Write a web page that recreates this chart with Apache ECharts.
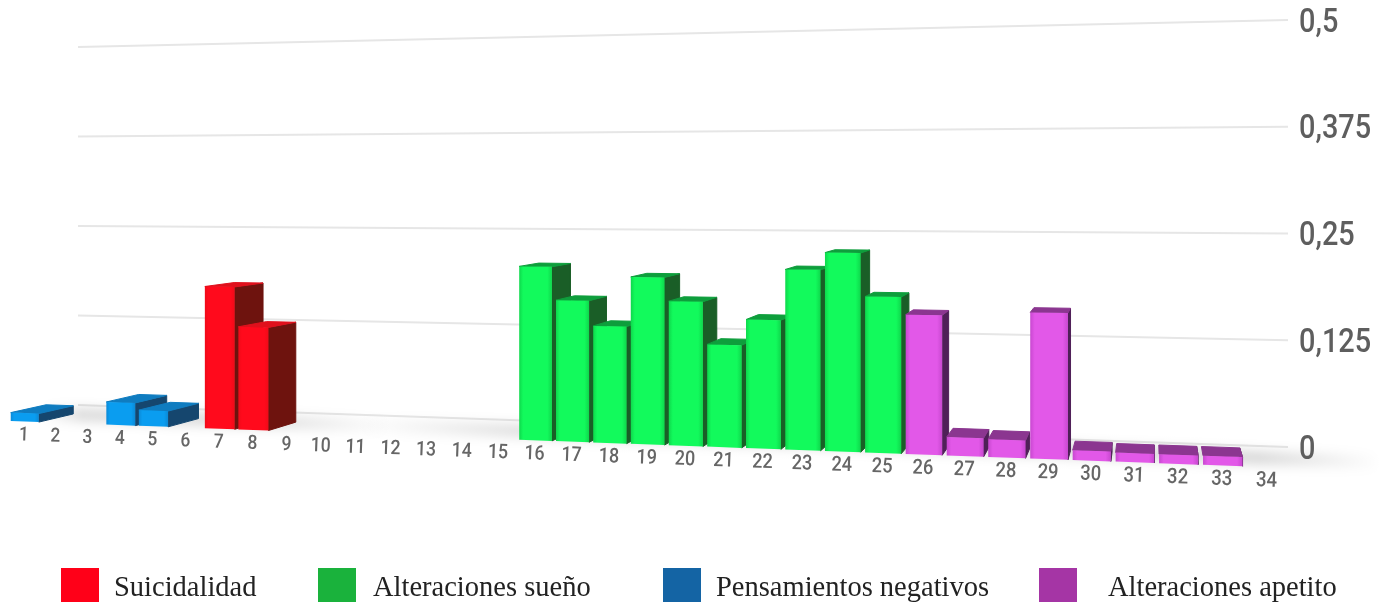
<!DOCTYPE html>
<html>
<head>
<meta charset="utf-8">
<style>html,body{margin:0;padding:0;background:#fff}#c{width:1383px;height:602px}</style>
<script src="https://cdn.jsdelivr.net/npm/echarts@6/dist/echarts.min.js"></script>
</head>
<body>
<div id="c"></div>
<script>
const categories = ['1','2','3','4','5','6','7','8','9','10','11','12','13','14','15','16','17','18','19','20','21','22','23','24','25','26','27','28','29','30','31','32','33','34'];
const pensamientosCats = ['1','4','5'];
const pensamientosVals = [0.011,0.029,0.020];
const suicidalidadCats = ['7','8'];
const suicidalidadVals = [0.179,0.129];
const suenoCats = ['16','17','18','19','20','21','22','23','24','25'];
const suenoVals = [0.209,0.169,0.139,0.198,0.170,0.120,0.150,0.209,0.229,0.179];
const apetitoCats = ['26','27','28','29','30','31','32','33'];
const apetitoVals = [0.159,0.021,0.020,0.164,0.011,0.010,0.010,0.010];
const gridTicks = [0,0.125,0.25,0.375,0.5];

// perspective set-up: flat grid rectangle -> tilted planes [TL, TR, BR, BL]
const WALL = [[78,47],[1288,20],[1288,447],[78,405]];
const FRONT = [[9,37],[1290,7],[1290,468],[9,421]];
const DEPTH = 0.031, VP = [1150,160];

function quadMap(q){
  const [p0,p1,p2,p3]=q;
  const dx1=p1[0]-p2[0],dx2=p3[0]-p2[0],sx=p0[0]-p1[0]+p2[0]-p3[0];
  const dy1=p1[1]-p2[1],dy2=p3[1]-p2[1],sy=p0[1]-p1[1]+p2[1]-p3[1];
  const d=dx1*dy2-dx2*dy1;
  const g=(sx*dy2-dx2*sy)/d,h=(dx1*sy-sx*dy1)/d;
  const a=p1[0]-p0[0]+g*p1[0],b=p3[0]-p0[0]+h*p3[0],c=p0[0];
  const e=p1[1]-p0[1]+g*p1[1],f=p3[1]-p0[1]+h*p3[1],i=p0[1];
  return (u,v)=>{const w=g*u+h*v+1;return [(a*u+b*v+c)/w,(e*u+f*v+i)/w];};
}
const wallMap=quadMap(WALL), frontMap=quadMap(FRONT);
function project(map,cs,pt){return map((pt[0]-cs.x)/cs.width,(pt[1]-cs.y)/cs.height);}
function back(p){return [p[0]+DEPTH*(VP[0]-p[0]),p[1]+DEPTH*(VP[1]-p[1])];}

function barSeries(name,cats,vals,pal){
  return {
    type:'custom',name,coordinateSystem:'cartesian2d',silent:true,z:3,
    data:cats.map((c,i)=>[c,vals[i]]),
    encode:{x:0,y:1},
    renderItem(params,api){
      const cs=params.coordSys, idx=api.value(0), v=api.value(1);
      const bw=api.size([1,0])[0]*0.445;
      const base=api.coord([idx,0]), top=api.coord([idx,v]);
      const fl=(x,y)=>project(frontMap,cs,[x,y]);
      const bl=fl(base[0]-bw,base[1]), br=fl(base[0]+bw,base[1]);
      const tl=fl(top[0]-bw,top[1]), tr=fl(top[0]+bw,top[1]);
      const btl=back(tl), btr=back(tr), bbr=back(br);
      return {type:'group',children:[
        {type:'polygon',shape:{points:[br,tr,btr,bbr]},style:{fill:pal.side,stroke:pal.side,lineWidth:1,lineJoin:'round'}},
        {type:'polygon',shape:{points:[tl,tr,btr,btl]},style:{fill:pal.top,stroke:pal.top,lineWidth:1,lineJoin:'round'}},
        {type:'polygon',shape:{points:[tl,tr,br,bl]},style:{fill:{type:'linear',x:0,y:0,x2:1,y2:0,colorStops:[
          {offset:0,color:pal.edge},{offset:0.12,color:pal.front},{offset:0.86,color:pal.front},{offset:1,color:pal.edge}]}}}
      ]};
    }
  };
}

const palRed={front:'#ff0a1c',edge:'#f00a18',side:'#6e130e',top:'#e0101c'};
const palGreen={front:'#12fa5c',edge:'#0ed84c',side:'#1a5e27',top:'#0e9e3c'};
const palBlue={front:'#0a9df0',edge:'#0a8ad8',side:'#15466e',top:'#0f7cc0'};
const palPurple={front:'#e258e8',edge:'#c848d0',side:'#4f2058',top:'#8b3690'};

const legendNames=['Suicidalidad','Alteraciones sueño','Pensamientos negativos','Alteraciones apetito'];
const legendColors=['#ff0018','#1ab23c','#1464a4','#a535a5'];
const legendLeft=[61,318,663,1039];
const legendGap=[10,12,10,26];

// floor shadow blobs: spans in band units, with fade stops
const SHADOWS=[
  {from:1.0,to:11.5,stops:[0,0.12,0.62,1],alpha:0.24},
  {from:10.5,to:36,stops:[0,0.2,0.88,1],alpha:0.26}
];

const option={
  animation:false,
  backgroundColor:'#fff',
  grid:{left:78,right:95,top:20,bottom:155},
  xAxis:{type:'category',data:categories,axisLabel:{show:false},axisLine:{show:false},axisTick:{show:false}},
  yAxis:{type:'value',position:'right',min:0,max:0.5,interval:0.125,
    splitLine:{show:false},axisLine:{show:false},axisTick:{show:false},axisLabel:{show:false}},
  legend:legendNames.map((n,i)=>({
    left:legendLeft[i],top:568,padding:0,itemWidth:38,itemHeight:42,
    icon:'path://M0 0H38V34H0Z M0 42L38 42',
    data:[{name:n,itemStyle:{color:legendColors[i]}}],selectedMode:false,
    textStyle:{fontFamily:'"Liberation Serif",serif',fontSize:28.5,color:'#222',padding:[0,0,0,legendGap[i]]}
  })),
  series:[
    {type:'custom',coordinateSystem:'cartesian2d',silent:true,z:1,data:gridTicks.map(v=>[0,v]),encode:{y:1},
      renderItem(params,api){
        const cs=params.coordSys, y=api.coord([0,api.value(1)])[1];
        const a=project(wallMap,cs,[cs.x,y]), b=project(wallMap,cs,[cs.x+cs.width,y]);
        return {type:'line',shape:{x1:a[0],y1:a[1],x2:b[0],y2:b[1]},style:{stroke:'#e6e6e6',lineWidth:2}};
      }},
    {type:'custom',coordinateSystem:'cartesian2d',silent:true,z:2,data:SHADOWS.map((s,i)=>[i,0]),encode:{y:1},
      renderItem(params,api){
        const cs=params.coordSys, s=SHADOWS[params.dataIndex], y=api.coord([0,0])[1], band=api.size([1,0])[0];
        const a=project(frontMap,cs,[cs.x+s.from*band,y]), b=project(frontMap,cs,[cs.x+s.to*band,y]);
        const off=3000;
        const c='rgba(90,90,90,';
        return {type:'polygon',shape:{points:[[a[0]+off,a[1]-15],[b[0]+off,b[1]-15],[b[0]+off,b[1]-3],[a[0]+off,a[1]-3]]},
          style:{fill:{type:'linear',x:0,y:0,x2:1,y2:0,colorStops:[
            {offset:s.stops[0],color:c+'0)'},{offset:s.stops[1],color:c+s.alpha+')'},
            {offset:s.stops[2],color:c+s.alpha+')'},{offset:s.stops[3],color:c+'0)'}]},
            shadowColor:'rgba(90,90,90,1)',shadowBlur:12,shadowOffsetX:-off}};
      }},
    barSeries('Pensamientos negativos',pensamientosCats,pensamientosVals,palBlue),
    barSeries('Suicidalidad',suicidalidadCats,suicidalidadVals,palRed),
    barSeries('Alteraciones sueño',suenoCats,suenoVals,palGreen),
    barSeries('Alteraciones apetito',apetitoCats,apetitoVals,palPurple),
    {type:'custom',coordinateSystem:'cartesian2d',silent:true,z:4,data:categories.map(c=>[c,0]),encode:{x:0},
      renderItem(params,api){
        const cs=params.coordSys, idx=api.value(0), p0=api.coord([idx,0]);
        const p=project(frontMap,cs,p0);
        return {type:'text',x:p[0]-1,y:p[1]+14,rotation:-0.035,scaleX:0.88,
          style:{text:categories[idx],textAlign:'center',textVerticalAlign:'middle',
            fontFamily:'Roboto,sans-serif',fontWeight:500,fontSize:19.5+idx*0.05,fill:'#666'}};
      }},
    {type:'custom',coordinateSystem:'cartesian2d',silent:true,z:4,data:gridTicks.map(v=>[0,v]),encode:{y:1},
      renderItem(params,api){
        const cs=params.coordSys, v=api.value(1), y=api.coord([0,v])[1];
        return {type:'text',x:cs.x+cs.width+11,y:y+3,scaleX:0.85,
          style:{text:String(v).replace('.',','),textAlign:'left',textVerticalAlign:'middle',
            fontFamily:'Roboto,sans-serif',fontWeight:500,fontSize:34,fill:'#5e5e5e'}};
      }}
  ]
};
const chart=echarts.init(document.getElementById('c'));
chart.setOption(option);
</script>
</body>
</html>
